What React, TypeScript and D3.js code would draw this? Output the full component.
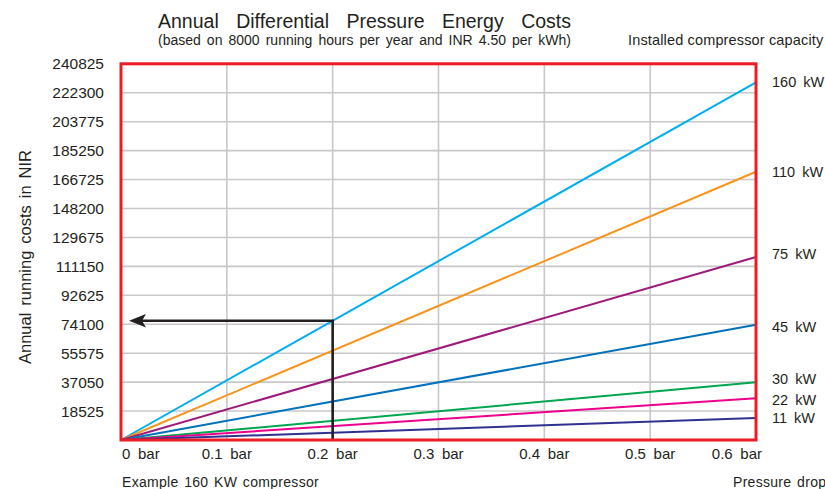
import React, { useEffect, useRef } from "react";
import * as d3 from "d3";

// ---- data ----
const pressureDrop = [0, 0.6]; // bar
const capacities = ["160 kW", "110 kW", "75 kW", "45 kW", "30 kW", "22 kW", "11 kW"];
const costAtMaxDrop = [229000, 171700, 117200, 73800, 36900, 26700, 14100]; // INR at 0.6 bar
const costAtZero = [0, 0, 0, 0, 0, 0, 0];
const seriesColors = ["#00aeef", "#f7941d", "#9e1a7a", "#0072bc", "#00a651", "#ec008c", "#2e3192"];
const labelNudge = [0, 0, -2.5, 2.5, -3, 1.5, 0];
const xTicks = [0, 0.1, 0.2, 0.3, 0.4, 0.5, 0.6];
const xTickLabels = ["0 bar", "0.1 bar", "0.2 bar", "0.3 bar", "0.4 bar", "0.5 bar", "0.6 bar"];
const yTicks = [18525, 37050, 55575, 74100, 92625, 111150, 129675, 148200, 166725, 185250, 203775, 222300, 240825];
const exampleDrop = 0.2;
const exampleSeries = 0; // 160 kW

const W = 825;
const H = 489;

export default function App() {
  const ref = useRef<SVGSVGElement | null>(null);

  useEffect(() => {
    document.body.style.margin = "0";
    const svg = d3.select(ref.current);
    svg.selectAll("*").remove();
    const font = "'Liberation Sans', Arial, Helvetica, sans-serif";

    const x = d3.scaleLinear().domain([0, 0.6]).range([121, 756]);
    const y = d3.scaleLinear().domain([0, 240825]).range([440, 63.8]);

    const fit = (sel: any, width: number) => {
      const node = sel.node() as SVGTextElement;
      const len = node.getComputedTextLength();
      const spaces = (node.textContent || "").split(" ").length - 1;
      if (spaces > 0) sel.attr("word-spacing", Math.max(0, (width - len) / spaces));
    };

    // gridlines
    const grid = svg.append("g").attr("stroke", "#c8c8ca").attr("stroke-width", 1.6);
    xTicks.slice(1, -1).forEach((t) => {
      grid.append("line").attr("x1", x(t)).attr("x2", x(t)).attr("y1", y(0)).attr("y2", y(240825));
    });
    yTicks.slice(0, -1).forEach((t) => {
      grid.append("line").attr("x1", x(0)).attr("x2", x(0.6)).attr("y1", y(t)).attr("y2", y(t));
    });

    // series lines
    const line = d3
      .line<[number, number]>()
      .x((d) => x(d[0]))
      .y((d) => y(d[1]));
    capacities.forEach((c, i) => {
      const pts: [number, number][] = [
        [pressureDrop[0], costAtZero[i]],
        [pressureDrop[1], costAtMaxDrop[i]],
      ];
      svg
        .append("path")
        .attr("d", line(pts))
        .attr("fill", "none")
        .attr("stroke", seriesColors[i])
        .attr("stroke-width", 2);
    });

    // example arrow
    const exVal = d3.scaleLinear().domain(pressureDrop).range([costAtZero[exampleSeries], costAtMaxDrop[exampleSeries]])(exampleDrop);
    const ex = x(exampleDrop);
    const ey = y(exVal);
    const tipX = x(0) + 8;
    svg
      .append("path")
      .attr("d", `M${ex},${y(0)} L${ex},${ey} L${tipX + 12},${ey}`)
      .attr("fill", "none")
      .attr("stroke", "#231f20")
      .attr("stroke-width", 2.6);
    svg
      .append("path")
      .attr("d", `M${tipX},${ey} L${tipX + 17},${ey - 6.8} L${tipX + 13},${ey} L${tipX + 17},${ey + 6.8} Z`)
      .attr("fill", "#231f20");

    // border
    svg
      .append("rect")
      .attr("x", x(0))
      .attr("y", y(240825))
      .attr("width", x(0.6) - x(0))
      .attr("height", y(0) - y(240825))
      .attr("fill", "none")
      .attr("stroke", "#ed1c24")
      .attr("stroke-width", 3);

    const txt = svg.append("g").attr("font-family", font).attr("fill", "#231f20");

    // title
    const t1 = txt.append("text").attr("x", 158).attr("y", 28).attr("font-size", 19.5).text("Annual Differential Pressure Energy Costs");
    fit(t1, 413);
    const t2 = txt
      .append("text")
      .attr("x", 158)
      .attr("y", 45)
      .attr("font-size", 14)
      .text("(based on 8000 running hours per year and INR 4.50 per kWh)");
    fit(t2, 413);
    const t3 = txt
      .append("text")
      .attr("x", 628)
      .attr("y", 45)
      .attr("font-size", 14.5)
      .attr("letter-spacing", 0.15)
      .text("Installed compressor capacity");
    fit(t3, 194);

    // y axis ticks
    yTicks.forEach((t) => {
      txt
        .append("text")
        .attr("x", 104)
        .attr("y", y(t) + 5.5)
        .attr("text-anchor", "end")
        .attr("font-size", 15.5)
        .text(String(t));
    });

    // y label
    const yl = txt
      .append("text")
      .attr("transform", `translate(31,364) rotate(-90)`)
      .attr("font-size", 16.5)
      .text("Annual running costs in NIR");
    fit(yl, 214);

    // x tick labels
    xTicks.forEach((t, i) => {
      const anchor = i === 0 ? "start" : i === xTicks.length - 1 ? "end" : "middle";
      const xx = i === 0 ? x(t) + 1 : i === xTicks.length - 1 ? x(t) + 6 : x(t);
      txt
        .append("text")
        .attr("x", xx)
        .attr("y", 459)
        .attr("text-anchor", anchor)
        .attr("font-size", 15)
        .attr("word-spacing", 3.5)
        .text(xTickLabels[i]);
    });

    // right labels
    capacities.forEach((c, i) => {
      txt
        .append("text")
        .attr("x", 772)
        .attr("y", y(costAtMaxDrop[i]) + 5 + labelNudge[i])
        .attr("font-size", 14.5)
        .attr("word-spacing", 3)
        .text(c);
    });

    const e1 = txt
      .append("text")
      .attr("x", 122)
      .attr("y", 487)
      .attr("font-size", 14)
      .attr("letter-spacing", 0.3)
      .text("Example 160 KW compressor");
    fit(e1, 197);
    txt
      .append("text")
      .attr("x", 733)
      .attr("y", 487)
      .attr("font-size", 14)
      .attr("letter-spacing", 0.3)
      .attr("word-spacing", 1.5)
      .text("Pressure drop");
  }, []);

  return <svg ref={ref} width={W} height={H} style={{ display: "block", background: "#fff" }} />;
}
